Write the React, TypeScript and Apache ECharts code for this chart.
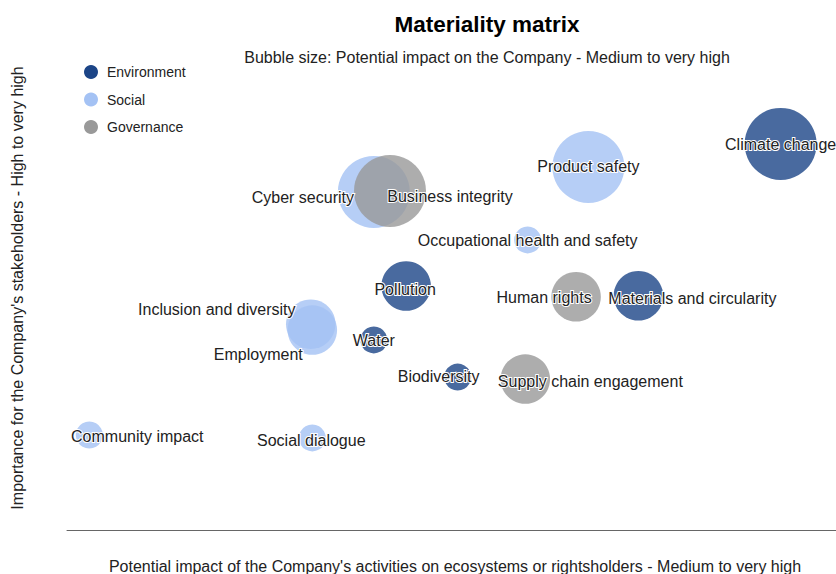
import React, { useEffect, useRef } from "react";
import * as echarts from "echarts";

// Topics (x: potential impact on ecosystems/rightsholders, y: importance for stakeholders, impact: bubble size level 1-3)
const envNames = ["Climate change", "Pollution", "Materials and circularity", "Water", "Biodiversity"];
const envX = [9.28, 4.41, 7.43, 3.99, 5.08];
const envY = [7.88, 4.98, 4.78, 3.88, 3.12];
const envImpact = [3, 2, 2, 1, 1];

const socNames = ["Product safety", "Cyber security", "Occupational health and safety", "Inclusion and diversity", "Employment", "Community impact", "Social dialogue"];
const socX = [6.78, 3.99, 5.99, 3.17, 3.19, 0.29, 3.19];
const socY = [7.41, 6.9, 5.92, 4.2, 4.08, 1.94, 1.88];
const socImpact = [3, 3, 1, 2, 2, 1, 1];

const govNames = ["Business integrity", "Human rights", "Supply chain engagement"];
const govX = [4.2, 6.62, 5.96];
const govY = [6.92, 4.76, 3.08];
const govImpact = [3, 2, 2];

// label placement offsets (px) relative to bubble centre
const labelOffsets: Record<string, [number, number]> = {
  "Climate change": [0, 1],
  "Product safety": [0, 0],
  "Cyber security": [-71, 6],
  "Business integrity": [60, 6],
  "Occupational health and safety": [0, 1],
  "Pollution": [-1, 4],
  "Human rights": [-32, 1],
  "Materials and circularity": [54, 3],
  "Inclusion and diversity": [-94, -15],
  "Employment": [-54, 24],
  "Water": [0, 1],
  "Biodiversity": [-19, -1],
  "Supply chain engagement": [65, 2],
  "Community impact": [48, 2],
  "Social dialogue": [-1, 3],
};

const FONT = "'Liberation Sans', Arial, sans-serif";

function build(names: string[], xs: number[], ys: number[], imp: number[]) {
  return names.map((n, i) => ({
    name: n,
    value: [xs[i], ys[i], imp[i]],
    label: { offset: labelOffsets[n] || [0, 0] },
  }));
}

function mkSeries(name: string, color: string, fill: string, data: any[]) {
  return {
    name,
    type: "scatter",
    data,
    color,
    symbolSize: (v: number[]) => 4.5 + 22.5 * v[2],
    itemStyle: { color: fill, opacity: 1 },
    label: {
      show: true,
      position: "inside",
      formatter: "{b}",
      color: "#222",
      opacity: 1,
      fontSize: 16,
      fontFamily: FONT,
      textBorderColor: "#fff",
      textBorderWidth: 2,
    },
    emphasis: { disabled: true },
  };
}

export default function App() {
  const ref = useRef<HTMLDivElement>(null);
  useEffect(() => {
    if (!ref.current) return;
    const chart = echarts.init(ref.current, null, { renderer: "svg" });
    chart.setOption({
      animation: false,
      backgroundColor: "#fff",
      textStyle: { fontFamily: FONT },
      grid: { left: 67, right: 0, top: 40, bottom: 44 },
      xAxis: {
        type: "value",
        min: 0,
        max: 10,
        axisLine: { show: true, lineStyle: { color: "#666", width: 1 } },
        axisTick: { show: false },
        axisLabel: { show: false },
        splitLine: { show: false },
      },
      yAxis: {
        type: "value",
        min: 0,
        max: 10,
        axisLine: { show: false },
        axisTick: { show: false },
        axisLabel: { show: false },
        splitLine: { show: false },
      },
      legend: {
        orient: "vertical",
        left: 79,
        top: 60,
        icon: "circle",
        itemWidth: 14,
        itemHeight: 14,
        itemGap: 13.5,
        textStyle: { fontSize: 14, color: "#222", fontFamily: FONT, padding: [0, 0, 0, 4] },
        data: [
          { name: "Environment", itemStyle: { color: "#1c4587", opacity: 1 } },
          { name: "Social", itemStyle: { color: "#a4c2f4", opacity: 1 } },
          { name: "Governance", itemStyle: { color: "#999999", opacity: 1 } },
        ],
      },
      graphic: [
        {
          type: "text",
          x: 487,
          y: 24,
          style: {
            text: "Materiality matrix",
            font: `bold 22.5px ${FONT}`,
            fill: "#000",
            align: "center",
            verticalAlign: "middle",
          },
        },
        {
          type: "text",
          x: 487,
          y: 57,
          style: {
            text: "Bubble size: Potential impact on the Company - Medium to very high",
            font: `16px ${FONT}`,
            fill: "#222",
            align: "center",
            verticalAlign: "middle",
          },
        },
        {
          type: "text",
          x: 455,
          y: 566,
          style: {
            text: "Potential impact of the Company's activities on ecosystems or rightsholders - Medium to very high",
            font: `16px ${FONT}`,
            fill: "#222",
            align: "center",
            verticalAlign: "middle",
          },
        },
        {
          type: "text",
          x: 17,
          y: 288,
          rotation: Math.PI / 2,
          style: {
            text: "Importance for the Company's stakeholders - High to very high",
            font: `16px ${FONT}`,
            fill: "#222",
            align: "center",
            verticalAlign: "middle",
          },
        },
      ],
      series: [
        mkSeries("Environment", "#1c4587", "rgba(28,69,135,0.8)", build(envNames, envX, envY, envImpact)),
        mkSeries("Social", "#a4c2f4", "rgba(164,194,244,0.8)", build(socNames, socX, socY, socImpact)),
        mkSeries("Governance", "#999999", "rgba(153,153,153,0.8)", build(govNames, govX, govY, govImpact)),
      ],
    });
    return () => chart.dispose();
  }, []);
  return <div ref={ref} style={{ width: 836, height: 574, position: "absolute", left: 0, top: 0 }} />;
}
